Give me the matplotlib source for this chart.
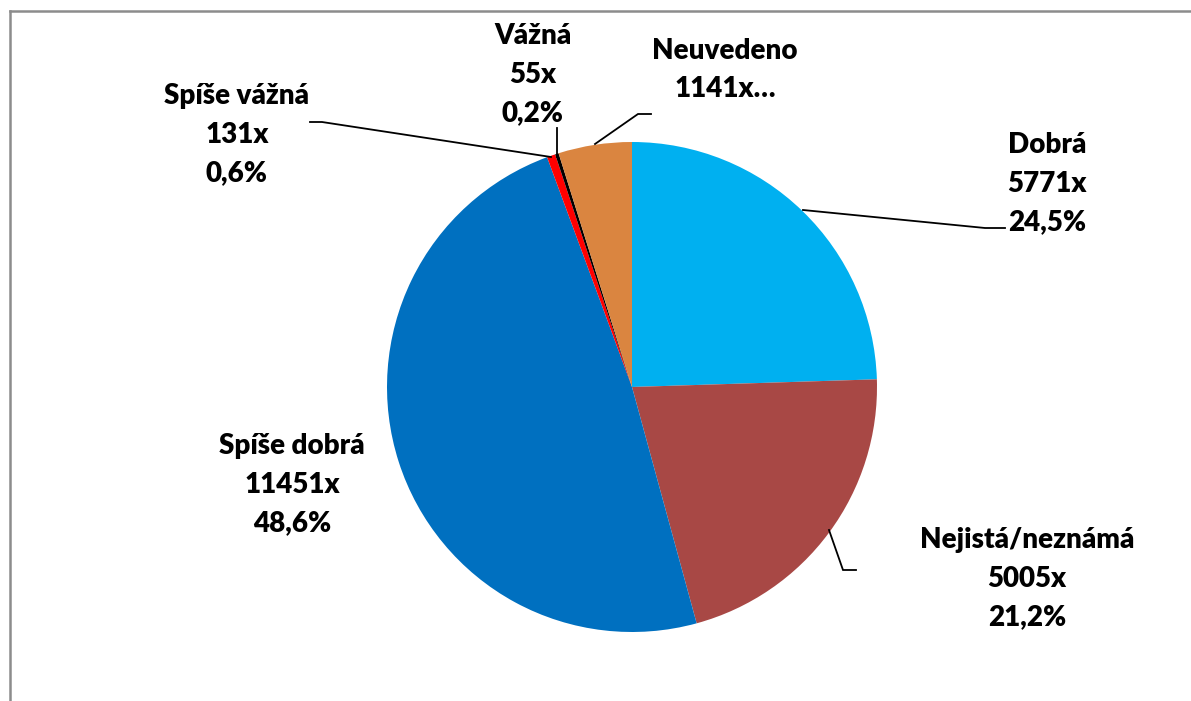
import matplotlib
matplotlib.use("Agg")
import matplotlib.pyplot as plt
from matplotlib.lines import Line2D

categories = ["Dobrá", "Nejistá/neznámá", "Spíše dobrá", "Spíše vážná", "Vážná", "Neuvedeno"]
counts = [5771, 5005, 11451, 131, 55, 1141]
label_texts = ["Dobrá\n5771x\n24,5%", "Nejistá/neznámá\n5005x\n21,2%", "Spíše dobrá\n11451x\n48,6%",
               "Spíše vážná\n131x\n0,6%", "Vážná\n55x\n0,2%", "Neuvedeno\n1141x…"]
colors = ["#00B0F0", "#A84845", "#0070C0", "#FF0000", "#000000", "#DA8540"]

W, H = 1191, 701
fig = plt.figure(figsize=(W / 100, H / 100), dpi=100)
ax = fig.add_axes([0, 0, 1, 1])

cx, cy, r = 632, H - 387, 245
ax.pie(counts, colors=colors, startangle=90, counterclock=False,
       center=(cx, cy), radius=r, frame=True,
       wedgeprops=dict(linewidth=0))
ax.set_xlim(0, W)
ax.set_ylim(0, H)
ax.set_aspect("equal")
ax.axis("off")

# label positions (pixel coords from top)
label_pos = [(1047, 184), (1027, 579), (292, 485), (237, 135), (533, 75), (725, 70)]
for txt, (x, y) in zip(label_texts, label_pos):
    ax.text(x, H - y, txt, ha="center", va="center", fontsize=20, fontweight="heavy",
            family=["Lato", "DejaVu Sans"], linespacing=1.6, color="black")

leaders = [
    [(803, 210), (985, 228), (1005, 228)],
    [(829, 530), (843, 570), (856, 570)],
    [(310, 122), (322, 122), (551, 157)],
    [(557, 128), (557, 157)],
    [(595, 144), (638, 114), (651, 114)],
]
for pts in leaders:
    xs = [p[0] for p in pts]
    ys = [H - p[1] for p in pts]
    ax.plot(xs, ys, color="black", linewidth=1.3, solid_joinstyle="miter")

# chart frame (partial, as in reference)
fig.add_artist(Line2D([10 / W, 10 / W], [0, 1 - 11 / H], transform=fig.transFigure,
                      color="#8C8C8C", linewidth=1.8))
fig.add_artist(Line2D([10 / W, 1], [1 - 11 / H, 1 - 11 / H], transform=fig.transFigure,
                      color="#8C8C8C", linewidth=1.8))

fig.savefig("out.png", dpi=100)
